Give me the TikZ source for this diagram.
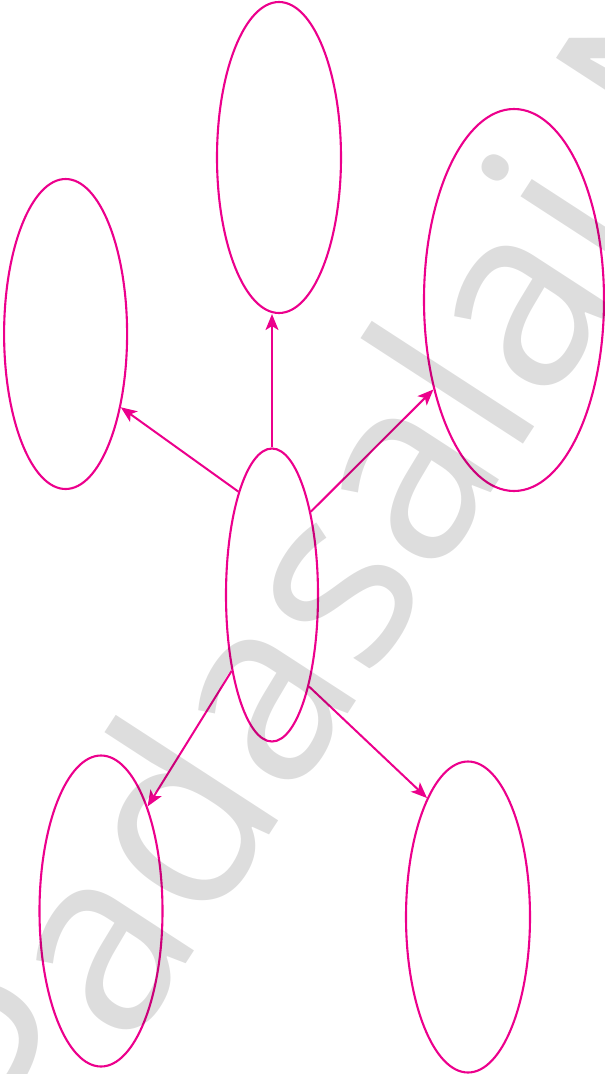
\documentclass[tikz,border=0pt]{standalone}
\usepackage{fontspec}
\newfontfamily\wmfont{Open Sans}
\usetikzlibrary{shapes.geometric,arrows.meta}
\definecolor{mag}{HTML}{EC008C}
\begin{document}
\begin{tikzpicture}[x=1pt,y=-1pt,
  bub/.style={ellipse, draw=mag, line width=2.1pt, inner sep=0pt},
  arr/.style={draw=mag, line width=2pt, -{Stealth[length=16pt,width=13pt,inset=4pt]}}]
\useasboundingbox (0,0) rectangle (605,1074);
\node[bub, minimum width=124pt, minimum height=311pt] (top) at (279,157.5) {};
\node[bub, minimum width=123pt, minimum height=310pt] (lft) at (65.6,334) {};
\node[bub, minimum width=180pt, minimum height=382pt] (rgt) at (514,300) {};
\node[bub, minimum width=92pt, minimum height=293pt] (c) at (272,595) {};
\node[bub, minimum width=123pt, minimum height=311pt] (bl) at (101,911) {};
\node[bub, minimum width=124pt, minimum height=311pt] (br) at (468,917) {};
\draw[arr] (c.north) -- (c.north |- top.south);
\draw[arr] (c.108.4) -- (lft.-53);
\draw[arr] (c.65.5) -- (rgt.228.4);
\draw[arr] (c.242.9) -- (bl.66.5);
\draw[arr] (c.-68.6) -- (br.109.8);
\begin{scope}
\clip (0,0) rectangle (605,1074);
\node[rotate=57, anchor=base west, inner sep=0pt, text=black, text opacity=0.134,
  font=\wmfont\fontsize{255}{255}\selectfont] (wm) at (511,463) {\llap{www.Padasa}lai.Net};
\end{scope}
\end{tikzpicture}
\end{document}
